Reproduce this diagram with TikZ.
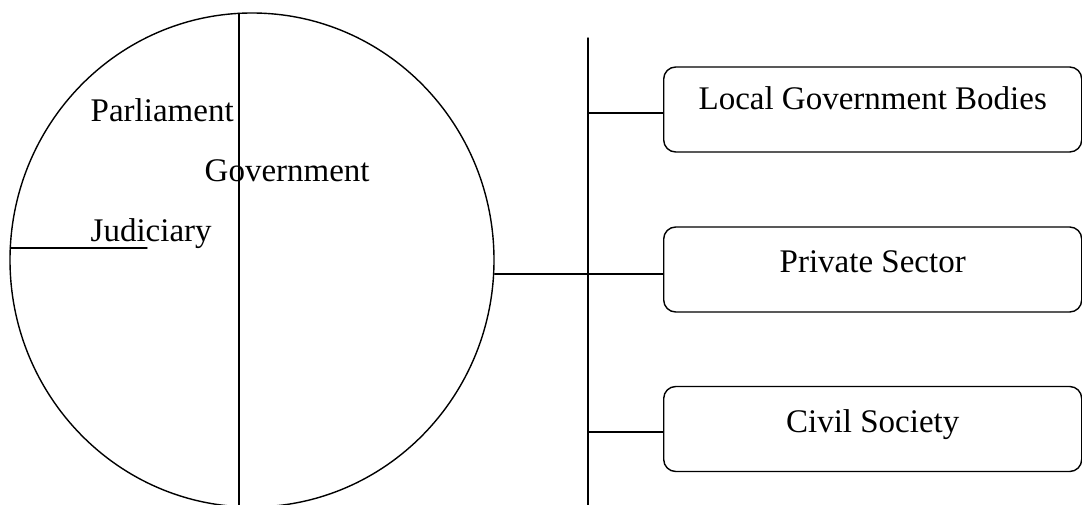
\documentclass[tikz,border=0pt]{standalone}
\usepackage{fontspec}
\setmainfont{Liberation Serif}
\usepackage{tikz}
\usetikzlibrary{calc, positioning, shapes.geometric}

\tikzset{
	label/.style={font=\fontsize{33}{40}\selectfont, inner sep=0pt},
	actor/.style={draw, rounded corners=12pt, line width=1.4pt, minimum width=418pt, minimum height=85pt,
		anchor=west, text height=13pt, text depth=7pt, font=\fontsize{33}{40}\selectfont, inner sep=0pt}
}

\begin{document}
\begin{tikzpicture}[x=1pt, y=-1pt, line cap=round, line join=round, line width=1.4pt]
		% frame
		\useasboundingbox (0,0) rectangle (1082,505);
		\clip (0,0) rectangle (1082,505);
		
		% the state circle
		\node [draw, ellipse, line width=1.4pt, minimum width=484pt, minimum height=494pt, inner sep=0pt] (polity) at (252,260) {};
		\coordinate (divtop) at (239,13.4);
		\coordinate (divbot) at (239,510);
		\draw (divtop)--(divbot); % divider
		\coordinate (judleft) at (10.3,248);
		\coordinate (judright) at (147,248);
		\draw (judleft)--(judright);
		
		\node [label, anchor=base west] (parl) at (90,122) {Parliament};
		\node [label, anchor=base west] (govt) at (204,182) {Government};
		\node [label, anchor=base west] (jud) at (90,242) {Judiciary};
		
		% actors on the right
		\node [actor, text height=10pt, text depth=10pt] (lgb) at (663,109.5) {Local Government Bodies};
		\node [actor] (ps) at (663,269.5) {Private Sector};
		\node [actor] (cs) at (663,429) {Civil Society};
		
		\coordinate (spinetop) at (588,38);
		\coordinate (spinebot) at (588,510);
		\draw (spinetop)--(spinebot); % spine
		
		\draw ($(spinetop |- lgb.west)+(0,3.5)$)--($(lgb.west)+(0,3.5)$);
		\draw ($(polity.east |- ps.west)+(0,4.5)$)--($(ps.west)+(0,4.5)$);
		\draw ($(spinetop |- cs.west)+(0,3)$)--($(cs.west)+(0,3)$);

    \end{tikzpicture}
\end{document}
